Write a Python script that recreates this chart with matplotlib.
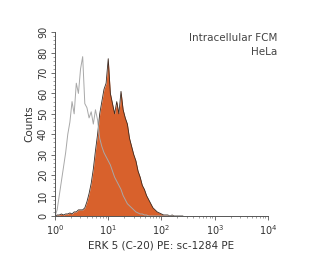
import numpy as np
import matplotlib
matplotlib.use("Agg")
import matplotlib.pyplot as plt
from matplotlib.ticker import FixedLocator, MultipleLocator, LogLocator, NullFormatter

plt.rcParams['font.family'] = ['Liberation Sans Narrow', 'DejaVu Sans']

# log10 fluorescence bin positions (0.04 decade steps)
log_bins = np.arange(0, 2.44, 0.04)

sample_counts = [0, 0.5, 0.5, 1, 0.5, 1, 1, 1.5, 1, 2,
                 2, 3, 3, 3, 4, 7, 11, 16, 23, 32,
                 40, 50, 56, 62, 65, 77, 60, 55, 50, 56,
                 50, 61, 52, 48, 45, 38, 34, 30, 27, 22,
                 19, 15, 13, 10, 8, 6, 4, 3, 2, 1.5,
                 1, 0.5, 0.5, 0.5, 0, 0.5, 0, 0, 0, 0, 0]

control_counts = [0, 3, 10, 17, 24, 31, 40, 46, 56, 50,
                  65, 60, 72, 78, 55, 53, 48, 51, 45, 52,
                  47, 38, 34, 31, 29, 27, 25, 22, 19, 17,
                  15, 13, 10, 8, 6, 5, 4, 3, 2, 1.5,
                  1, 1, 0.5, 0.5, 0, 0, 0, 0, 0, 0,
                  0, 0, 0, 0, 0, 0, 0, 0, 0, 0, 0]

y_ticks = [0, 10, 20, 30, 40, 50, 60, 70, 80, 90]
x_ticks = [1, 10, 100, 1000, 10000]
x_ticklabels = ['$10^0$', '$10^1$', '$10^2$', '$10^3$', '$10^4$']

x = 10 ** log_bins

fig = plt.figure(figsize=(3.09, 2.59), dpi=100)
ax = fig.add_axes([0.178, 0.166, 0.689, 0.71])

ax.fill_between(x, sample_counts, 0, color='#d8612c', lw=0)
ax.plot(x, sample_counts, color='#3a2a22', lw=0.6)
ax.plot(x, control_counts, color='#a8a8a8', lw=0.7)

ax.set_xscale('log')
ax.set_xlim(1, 10000)
ax.set_ylim(0, 90)

ax.xaxis.set_major_locator(FixedLocator(x_ticks))
ax.set_xticklabels(x_ticklabels)
ax.xaxis.set_minor_locator(LogLocator(base=10, subs=np.arange(2, 10)))
ax.xaxis.set_minor_formatter(NullFormatter())
ax.yaxis.set_major_locator(FixedLocator(y_ticks))
ax.yaxis.set_minor_locator(MultipleLocator(2))

for s in ['top', 'right']:
    ax.spines[s].set_visible(False)
for s in ['left', 'bottom']:
    ax.spines[s].set_color('#555555')
    ax.spines[s].set_linewidth(0.7)

ax.tick_params(axis='both', which='major', length=3, width=0.6, color='#555555',
               labelsize=7, labelcolor='#333333', pad=2)
ax.tick_params(axis='both', which='minor', length=1.5, width=0.5, color='#777777')
for lab in ax.get_yticklabels():
    lab.set_rotation(90)
    lab.set_va('center')

ax.set_xlabel('ERK 5 (C-20) PE: sc-1284 PE', fontsize=7.5, color='#333333', labelpad=3)
ax.set_ylabel('Counts', fontsize=7.5, color='#333333', labelpad=3)

fig.text(0.897, 0.855, 'Intracellular FCM', ha='right', va='center', fontsize=7.5, color='#444444')
fig.text(0.897, 0.8, 'HeLa', ha='right', va='center', fontsize=7.5, color='#444444')

fig.savefig('out.png', dpi=100)
